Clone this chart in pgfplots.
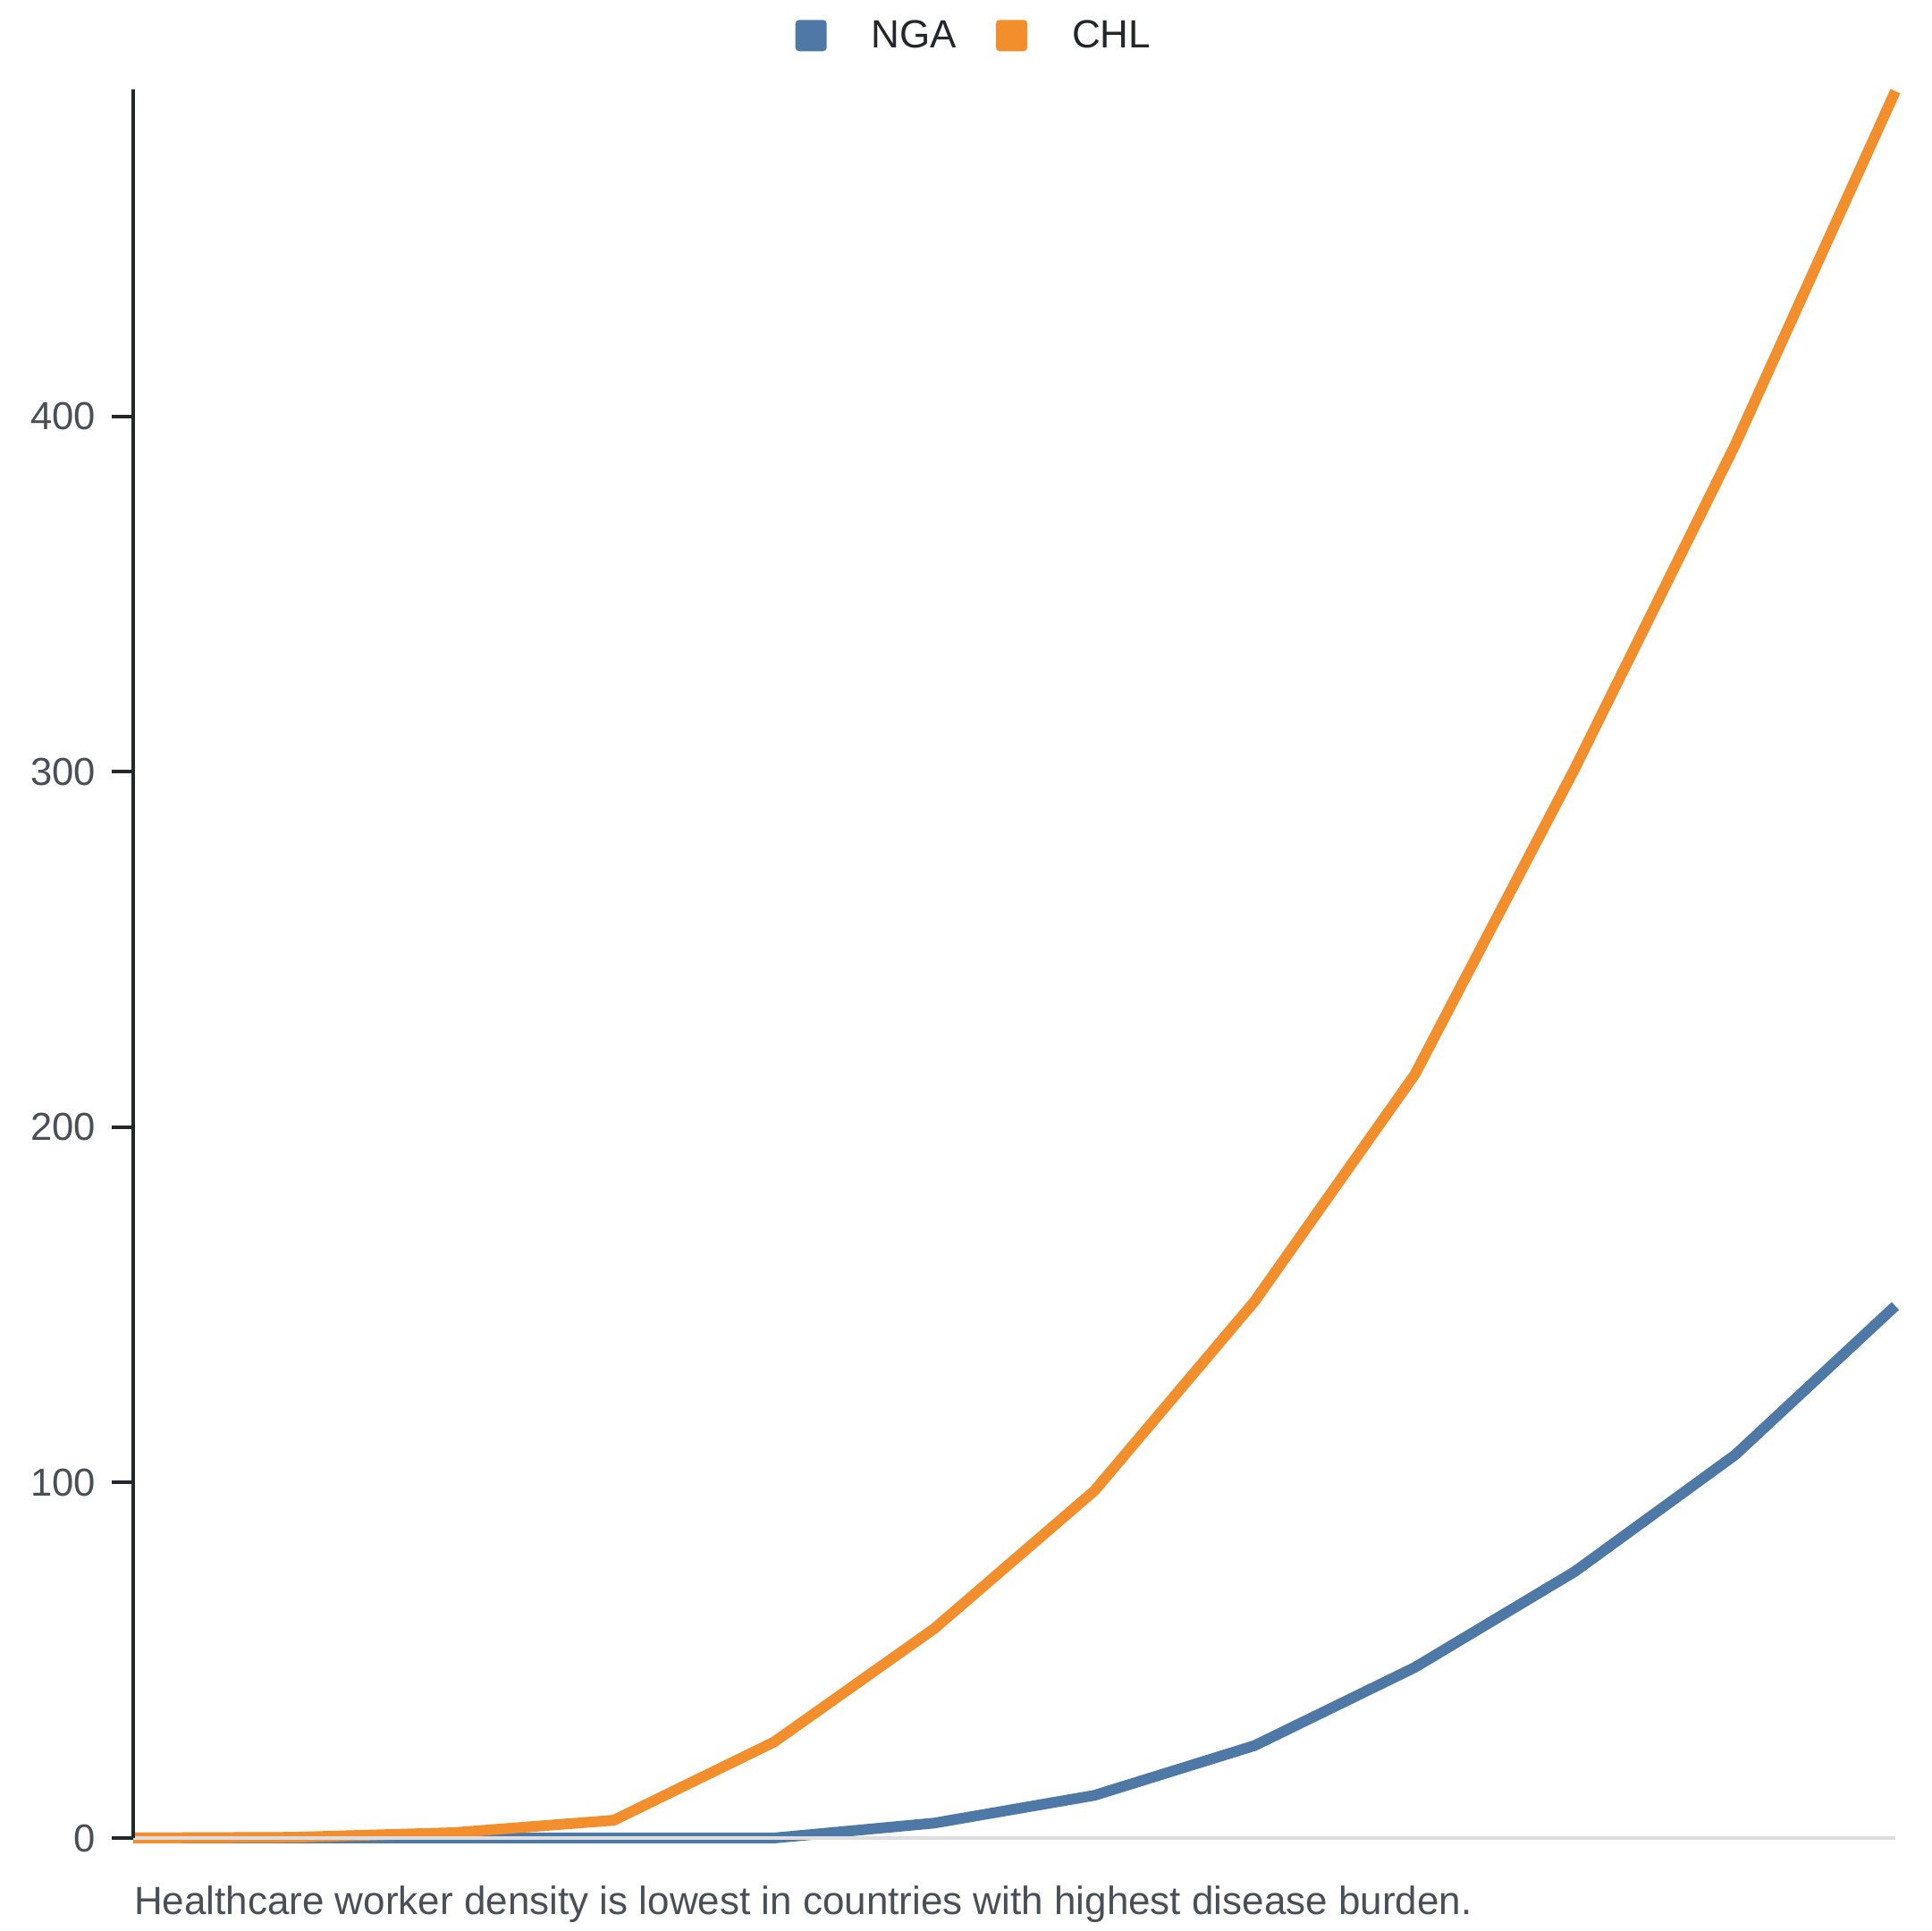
\documentclass[border=0pt]{standalone}
\usepackage{pgfplots}
\pgfplotsset{compat=1.18}
\usepackage{fontspec}
\setmainfont{Liberation Sans}
\definecolor{cblue}{HTML}{4E79A7}
\definecolor{corange}{HTML}{F28E2B}
\definecolor{axdark}{HTML}{23272B}
\definecolor{ticktext}{HTML}{4A4F57}
\definecolor{basegray}{HTML}{DCDEE2}

\pgfplotstableread{
x y
0 0
1 0
2 0
3 0
4 0
5 4.2
6 12
7 26
8 48
9 75
10 107.8
11 149.7
}\nga
\pgfplotstableread{
x y
0 0
1 0.2
2 1.5
3 5
4 27
5 58.9
6 97.7
7 151
8 214.8
9 301
10 392
11 491.5
}\chl

\begin{document}
\begin{tikzpicture}
\useasboundingbox (-37.25pt,-26pt) rectangle (502.75pt,514pt);
\begin{axis}[
  at={(0pt,0pt)}, anchor=south west,
  scale only axis, width=492.75pt, height=489pt,
  xmin=0, xmax=11, ymin=0, ymax=492,
  axis lines=left,
  axis line style={-},
  x axis line style={draw=basegray, line width=1pt},
  y axis line style={draw=axdark, line width=1pt},
  xtick=\empty,
  ytick={0,100,200,300,400},
  tick align=outside,
  major tick length=6pt,
  ytick style={draw=axdark, line width=1pt},
  yticklabel style={font=\fontsize{10.9}{12}\selectfont, text=ticktext, inner sep=0pt, xshift=-4.25pt},
  /pgf/number format/assume math mode=true,
  clip=false,
  axis on top,
  legend columns=2,
  legend style={at={(0.3754,1.0303)}, anchor=west, draw=none, fill=none, inner sep=0pt,
    nodes={inner sep=0pt, text=axdark, font=\fontsize{11}{12}\selectfont},
    /tikz/every odd column/.append style={column sep=12.5pt},
    /tikz/every even column/.append style={column sep=11pt}},
  legend image code/.code={\fill[#1, draw=none, rounded corners=1pt] (0pt,-4.125pt) rectangle (8.75pt,4.625pt);},
]
\addplot[color=cblue, line width=3pt] table[x=x,y=y] {\nga};
\addlegendentry{NGA}
\addplot[color=corange, line width=3pt] table[x=x,y=y] {\chl};
\addlegendentry{CHL}
\end{axis}
\node[anchor=base west, font=\fontsize{11}{13}\selectfont, text=ticktext, inner sep=0pt] at (0.05pt,-21.25pt) {Healthcare worker density is lowest in countries with highest disease burden.};
\end{tikzpicture}
\end{document}
